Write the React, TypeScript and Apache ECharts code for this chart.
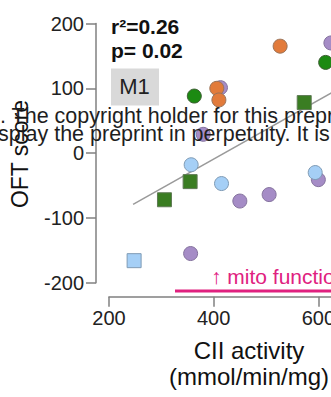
import React, { useEffect, useRef } from "react";
import * as echarts from "echarts";

const xTicks = [200, 400, 600, 800];
const yTicks = [-200, -100, 0, 100, 200];

const purpleCircles = [
  [624, 170], [413, 101], [380, 29], [450, -74], [506, -64], [600, -41], [356, -155],
];
const orangeCircles = [
  [527, 165], [406, 100], [410, 82],
];
const greenCircles = [
  [614, 140], [363, 88],
];
const greenSquares = [
  [573, 78], [355, -44], [306, -72],
];
const blueCircles = [
  [357, -18], [415, -47], [594, -30],
];
const blueSquares = [
  [248, -166],
];
const trendLine = [
  [246, -79], [700, 127],
];

const FONT = "'Liberation Sans', Arial, Helvetica, sans-serif";

export default function App() {
  const ref = useRef<HTMLDivElement>(null);
  useEffect(() => {
    if (!ref.current) return;
    const chart = echarts.init(ref.current, undefined, { renderer: "svg" });
    const axisColor = "#808080";
    const scatter = (data: number[][], color: string, border: string, symbol: string, z: number) => ({
      type: "scatter",
      data,
      symbol,
      symbolSize: 14,
      z,
      itemStyle: { color, borderColor: border, borderWidth: 1, opacity: 1 },
      emphasis: { disabled: true },
    });
    chart.setOption({
      animation: false,
      backgroundColor: "#ffffff",
      textStyle: { fontFamily: FONT },
      grid: {
        left: 109,
        top: 23.5,
        width: 314,
        height: 259.2,
        outerBoundsMode: "none",
        containLabel: false,
      },
      xAxis: {
        type: "value",
        min: xTicks[0],
        max: xTicks[xTicks.length - 1],
        interval: 200,
        offset: 14,
        axisLine: { show: true, onZero: false, lineStyle: { color: axisColor, width: 1.5 } },
        axisTick: { show: true, length: 10, lineStyle: { color: axisColor, width: 1.5 } },
        axisLabel: { fontSize: 20, color: "#222", margin: 11, fontFamily: FONT },
        splitLine: { show: false },
      },
      yAxis: {
        type: "value",
        min: yTicks[0],
        max: yTicks[yTicks.length - 1],
        interval: 100,
        offset: 13,
        axisLine: { show: true, onZero: false, lineStyle: { color: axisColor, width: 1.5 } },
        axisTick: { show: true, length: 10, lineStyle: { color: axisColor, width: 1.5 } },
        axisLabel: { fontSize: 20, color: "#222", margin: 12, fontFamily: FONT },
        splitLine: { show: false },
      },
      series: [
        {
          type: "line",
          data: trendLine,
          symbol: "none",
          z: 1,
          lineStyle: { color: "#9a9a9a", width: 1.5 },
          emphasis: { disabled: true },
        },
        scatter(purpleCircles, "#a58cc6", "#85739e", "circle", 2),
        scatter(orangeCircles, "#e27b3b", "#9b7358", "circle", 3),
        scatter(greenCircles, "#1c8a12", "#3f5f35", "circle", 3),
        scatter(greenSquares, "#3a7d22", "#5f7a55", "rect", 3),
        scatter(blueCircles, "#a5cff6", "#7f9bb5", "circle", 4),
        scatter(blueSquares, "#a5cff6", "#7f9bb5", "rect", 4),
      ],
      graphic: [
        {
          type: "text", x: 111, y: 26.7, z: 10,
          style: { text: "r²=0.26", font: `bold 21px ${FONT}`, fill: "#111", verticalAlign: "middle" },
        },
        {
          type: "text", x: 111, y: 50, z: 10,
          style: { text: "p= 0.02", font: `bold 21px ${FONT}`, fill: "#111", verticalAlign: "middle" },
        },
        {
          type: "rect", z: 10,
          shape: { x: 111, y: 68.5, width: 48, height: 37 },
          style: { fill: "#d9d9d9" },
        },
        {
          type: "text", x: 134.5, y: 86, z: 11,
          style: { text: "M1", font: `22px ${FONT}`, fill: "#222", align: "center", verticalAlign: "middle" },
        },
        {
          type: "text", x: 20, y: 154, rotation: Math.PI / 2, z: 10,
          style: { text: "OFT score", font: `23px ${FONT}`, fill: "#111", align: "center", verticalAlign: "middle" },
        },
        {
          type: "text", x: 249, y: 350, z: 10,
          style: { text: "CII activity", font: `24px ${FONT}`, fill: "#111", align: "center", verticalAlign: "middle" },
        },
        {
          type: "text", x: 249, y: 376, z: 10,
          style: { text: "(mmol/min/mg)", font: `24px ${FONT}`, fill: "#111", align: "center", verticalAlign: "middle" },
        },
        {
          type: "text", x: 211, y: 276, z: 10,
          style: { text: "↑ mito function", font: `21px ${FONT}`, fill: "#e0217f", verticalAlign: "middle" },
        },
        {
          type: "line", z: 10,
          shape: { x1: 175, y1: 291, x2: 400, y2: 291 },
          style: { stroke: "#e0217f", lineWidth: 3 },
        },
        {
          type: "text", x: 0, y: 115.5, z: 20,
          style: { text: ". The copyright holder for this preprint", font: `21.5px ${FONT}`, fill: "#1e1e1e", verticalAlign: "middle" },
        },
        {
          type: "text", x: -2, y: 133.5, z: 20,
          style: { text: "splay the preprint in perpetuity. It is made", font: `21.5px ${FONT}`, fill: "#1e1e1e", verticalAlign: "middle" },
        },
      ],
    });
    return () => chart.dispose();
  }, []);
  return (
    <div
      ref={ref}
      style={{ position: "absolute", left: 0, top: 0, width: 331, height: 397, overflow: "hidden" }}
    />
  );
}
